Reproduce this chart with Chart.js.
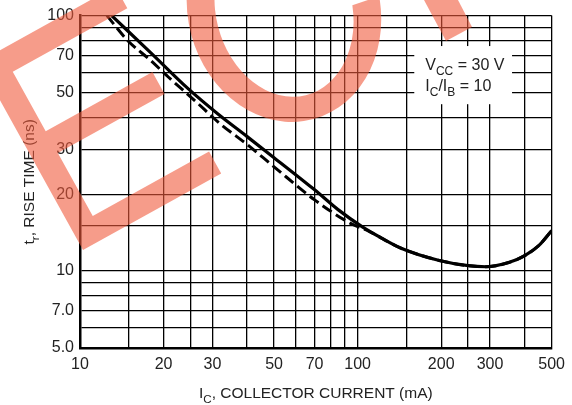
<!DOCTYPE html>
<html>
<head>
<meta charset="utf-8">
<script src="https://cdn.jsdelivr.net/npm/chart.js@4.4.1/dist/chart.umd.min.js"></script>
<style>
  html, body { margin: 0; padding: 0; background: #fff; }
</style>
</head>
<body>
<canvas id="chart" width="572" height="405"></canvas>
<script>
// grid lines and labelled ticks (log-log chart)
const xGrid = [10, 15, 20, 25, 30, 40, 50, 60, 70, 80, 90, 100, 150, 200, 250, 300, 400, 500];
const xLabels = [10, 20, 30, 50, 70, 100, 200, 300, 500];
const yGrid = [5, 6, 7, 8, 9, 10, 15, 20, 30, 40, 50, 60, 70, 80, 90, 100];
const yLabelValues = [5, 7, 10, 20, 30, 50, 70, 100];
const yLabelText = ["5.0", "7.0", "10", "20", "30", "50", "70", "100"];

// solid curve
const solidX = [13, 18, 24.4, 31.4, 40, 50, 70, 85, 104, 121.5, 142, 197, 250, 290, 350, 400, 450, 500];
const solidY = [100, 71.5, 52, 41.2, 33.6, 27.8, 20.8, 17.4, 14.9, 13.5, 12.35, 11.0, 10.5, 10.4, 10.8, 11.5, 12.6, 14.4];
// dashed curve
const dashX = [12.5, 14.9, 17.9, 20.8, 25.9, 32, 40, 50, 70, 93, 110, 142, 197, 250, 290, 350, 400, 450, 500];
const dashY = [100, 79.6, 67, 57.5, 46.5, 37.7, 31.3, 25.6, 19, 15.5, 14.3, 12.35, 11.0, 10.5, 10.4, 10.8, 11.5, 12.6, 14.4];

const FONT = "'Liberation Sans', Arial, sans-serif";
Chart.defaults.font.family = FONT;
Chart.defaults.color = "#222";

function pts(xs, ys) {
  return xs.map((x, i) => ({ x: x, y: ys[i] }));
}

// draw text made of [text, isSubscript] parts
function drawParts(ctx, parts, x, y, size, align) {
  const sub = size * 0.75;
  let total = 0;
  parts.forEach(p => {
    ctx.font = (p[1] ? sub : size) + "px " + FONT;
    total += ctx.measureText(p[0]).width;
  });
  let cx = align === "center" ? x - total / 2 : x;
  ctx.textAlign = "left";
  ctx.textBaseline = "alphabetic";
  parts.forEach(p => {
    ctx.font = (p[1] ? sub : size) + "px " + FONT;
    ctx.fillText(p[0], cx, p[1] ? y + 5 : y);
    cx += ctx.measureText(p[0]).width;
  });
}

const decorations = {
  id: "decorations",
  beforeDatasetsDraw(chart) {
    const { ctx, scales: { x, y } } = chart;
    const l = x.getPixelForValue(160), r = x.getPixelForValue(360);
    const t = y.getPixelForValue(76), b = y.getPixelForValue(45);
    ctx.save();
    ctx.fillStyle = "#fff";
    ctx.fillRect(l, t, r - l, b - t);
    ctx.fillStyle = "#222";
    drawParts(ctx, [["V", 0], ["CC", 1], [" = 30 V", 0]], l + 11, t + 24, 16, "left");
    drawParts(ctx, [["I", 0], ["C", 1], ["/I", 0], ["B", 1], [" = 10", 0]], l + 11, t + 45, 16, "left");
    ctx.restore();
  },
  afterDraw(chart) {
    const { ctx, chartArea } = chart;
    ctx.save();
    ctx.fillStyle = "#222";
    // axis titles
    drawParts(ctx, [["I", 0], ["C", 1], [", COLLECTOR CURRENT (mA)", 0]],
      (chartArea.left + chartArea.right) / 2, 398, 15.5, "center");
    ctx.save();
    ctx.translate(33.5, (chartArea.top + chartArea.bottom) / 2);
    ctx.rotate(-Math.PI / 2);
    drawParts(ctx, [["t", 0], ["r", 1], [", RISE TIME (ns)", 0]], 0, 0, 15.5, "center");
    ctx.restore();

    // red stamp over the chart
    ctx.fillStyle = "rgba(240, 90, 60, 0.6)";
    const a = 29 * Math.PI / 180;
    const u = [Math.cos(a), -Math.sin(a)], v = [-Math.sin(a), -Math.cos(a)];
    const e = [[0, 0], [158, 0], [158, 25], [25, 25], [25, 97], [147, 97], [147, 122],
               [25, 122], [25, 190], [156, 190], [156, 215], [0, 215]];
    ctx.beginPath();
    e.forEach((p, i) => {
      const px = 83 + u[0] * p[0] + v[0] * p[1];
      const py = 250 + u[1] * p[0] + v[1] * p[1];
      if (i === 0) ctx.moveTo(px, py); else ctx.lineTo(px, py);
    });
    ctx.closePath();
    ctx.fill();

    const rot = -15 * Math.PI / 180;
    ctx.beginPath();
    ctx.ellipse(284, 10, 96, 113, rot, 0.1, Math.PI + 0.8, false);
    ctx.ellipse(284, 10, 68, 88, rot, Math.PI + 0.8, 0.15, true);
    ctx.closePath();
    ctx.fill();

    ctx.beginPath();
    ctx.moveTo(424, 0);
    ctx.lineTo(458, 0);
    ctx.lineTo(472, 27);
    ctx.lineTo(446, 41);
    ctx.closePath();
    ctx.fill();
    ctx.restore();
  }
};

new Chart(document.getElementById("chart"), {
  type: "line",
  plugins: [decorations],
  data: {
    datasets: [
      {
        label: "solid",
        data: pts(solidX, solidY),
        borderColor: "#000",
        borderWidth: 3.2,
        pointRadius: 0,
        cubicInterpolationMode: "monotone",
        fill: false
      },
      {
        label: "dashed",
        data: pts(dashX, dashY),
        borderColor: "#000",
        borderWidth: 3,
        borderDash: [11, 5],
        pointRadius: 0,
        cubicInterpolationMode: "monotone",
        fill: false
      }
    ]
  },
  options: {
    responsive: false,
    devicePixelRatio: 1,
    animation: false,
    layout: { padding: { left: 0, top: 15, right: 16, bottom: 0 } },
    plugins: {
      legend: { display: false },
      tooltip: { enabled: false }
    },
    scales: {
      x: {
        type: "logarithmic",
        min: 10,
        max: 500,
        afterBuildTicks: s => { s.ticks = xGrid.map(v => ({ value: v })); },
        afterFit: s => { s.height = 57; },
        ticks: {
          autoSkip: false,
          maxRotation: 0,
          padding: 7,
          color: "#222",
          font: { size: 16 },
          callback: v => xLabels.includes(v) ? String(v) : ""
        },
        grid: { color: "#000", lineWidth: 1.3, drawTicks: false },
        border: { color: "#000", width: 2.5 }
      },
      y: {
        type: "logarithmic",
        min: 5,
        max: 100,
        afterBuildTicks: s => { s.ticks = yGrid.map(v => ({ value: v })); },
        afterFit: s => { s.width = 80; },
        ticks: {
          autoSkip: false,
          padding: 6,
          color: "#222",
          font: { size: 16 },
          callback: v => {
            const i = yLabelValues.indexOf(v);
            return i >= 0 ? yLabelText[i] : "";
          }
        },
        grid: { color: "#000", lineWidth: 1.3, drawTicks: false },
        border: { color: "#000", width: 2.5 }
      }
    }
  }
});
</script>
</body>
</html>
